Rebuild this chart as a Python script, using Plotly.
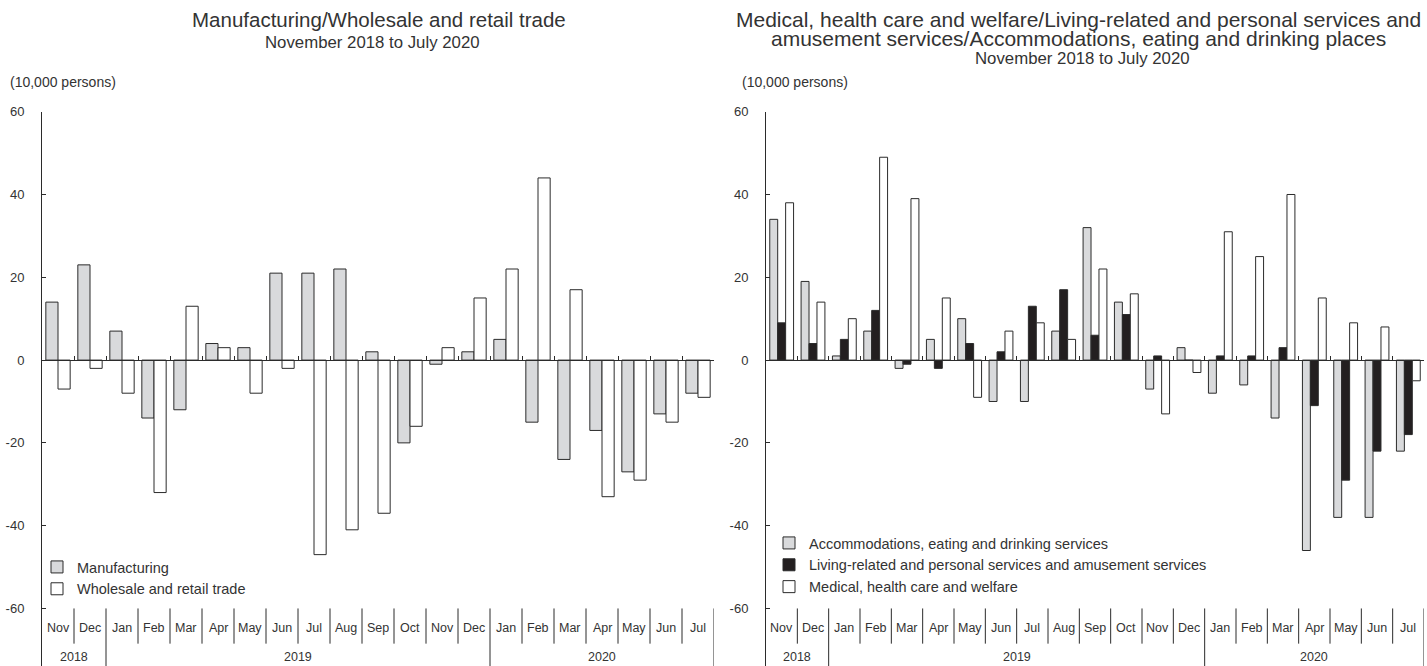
import plotly.graph_objects as go

# ---- data (10,000 persons) ----
months = ["Nov", "Dec", "Jan", "Feb", "Mar", "Apr", "May", "Jun", "Jul", "Aug", "Sep", "Oct",
          "Nov", "Dec", "Jan", "Feb", "Mar", "Apr", "May", "Jun", "Jul"]
years = ["2018"] * 2 + ["2019"] * 12 + ["2020"] * 7
periods = [f"{m} {y}" for m, y in zip(months, years)]

manufacturing = [14, 23, 7, -14, -12, 4, 3, 21, 21, 22, 2, -20,
                 -1, 2, 5, -15, -24, -17, -27, -13, -8]
wholesale = [-7, -2, -8, -32, 13, 3, -8, -2, -47, -41, -37, -16,
             3, 15, 22, 44, 17, -33, -29, -15, -9]

accommodations = [34, 19, 1, 7, -2, 5, 10, -10, -10, 7, 32, 14,
                  -7, 3, -8, -6, -14, -46, -38, -38, -22]
living = [9, 4, 5, 12, -1, -2, 4, 2, 13, 17, 6, 11,
          1, 0, 1, 1, 3, -11, -29, -22, -18]
medical = [38, 14, 10, 49, 39, 15, -9, 7, 9, 5, 22, 16,
           -13, -3, 31, 25, 40, 15, 9, 8, -5]

y_ticks = [-60, -40, -20, 0, 20, 40, 60]

# ---- layout constants ----
W, H = 1427, 666
FONT = "Liberation Sans"
TXT = "#333333"
EDGE = "#2b2b2b"
GRAY = "#d9dadc"
BLACK = "#231f20"
YMIN, YMAX = -73.9, 60
YTOP = (H - 111.7) / H
X0_POS = (0 - YMIN) / (YMAX - YMIN) * YTOP
MONTH_Y, YEAR_Y = -64.6, -71.8
SEP_Y, SEP_BOT = -60, -68.5

panels = [
    dict(x="x", y="y", xa="xaxis", ya="yaxis", dom=[42 / W, 714 / W], legend="legend"),
    dict(x="x2", y="y2", xa="xaxis2", ya="yaxis2", dom=[766 / W, 1424 / W], legend="legend2"),
]

fig = go.Figure()

series = [
    (0, "Manufacturing", manufacturing, GRAY),
    (0, "Wholesale and retail trade", wholesale, "white"),
    (1, "Accommodations, eating and drinking services", accommodations, GRAY),
    (1, "Living-related and personal services and amusement services", living, BLACK),
    (1, "Medical, health care and welfare", medical, "white"),
]
for p, name, vals, color in series:
    pn = panels[p]
    fig.add_trace(go.Bar(
        x=list(range(len(periods))), y=vals, name=name,
        xaxis=pn["x"], yaxis=pn["y"], legend=pn["legend"],
        marker=dict(color=color, line=dict(color=EDGE, width=1)),
        customdata=periods, hovertemplate="%{customdata}: %{y}<extra>" + name + "</extra>",
    ))

n = len(periods)
for pn in panels:
    fig.layout[pn["xa"]] = dict(
        domain=pn["dom"], range=[-0.5, n - 0.5], anchor="free", position=X0_POS,
        showline=True, linecolor=EDGE, linewidth=1, showgrid=False, zeroline=False,
        ticks="inside", ticklen=4, tickcolor=EDGE, automargin=False,
        tickvals=[i - 0.5 for i in range(n + 1)], showticklabels=False, fixedrange=True,
    )
    fig.layout[pn["ya"]] = dict(
        domain=[0, YTOP], range=[YMIN, YMAX], anchor=pn["x"],
        showline=True, linecolor=EDGE, linewidth=1, showgrid=False, zeroline=False,
        ticks="inside", ticklen=4, tickcolor=EDGE, automargin=False,
        tickvals=y_ticks, ticktext=[str(v) for v in y_ticks],
        tickfont=dict(size=13, color=TXT), ticklabelstandoff=14, fixedrange=True,
    )

    # month / year labels and separators under the plot
    for i, m in enumerate(months):
        fig.add_annotation(x=i, y=MONTH_Y, xref=pn["x"], yref=pn["y"], text=m,
                           showarrow=False, font=dict(size=12.5, color=TXT))
    for i in range(1, n + 1):
        year_break = i == n or years[i] != years[i - 1]
        fig.add_shape(type="line", xref=pn["x"], yref=pn["y"],
                      x0=i - 0.5, x1=i - 0.5, y0=SEP_Y, y1=YMIN if year_break else SEP_BOT,
                      line=dict(color=EDGE, width=1))
    start = 0
    for i in range(1, n + 1):
        if i == n or years[i] != years[i - 1]:
            fig.add_annotation(x=(start + i - 1) / 2, y=YEAR_Y, xref=pn["x"], yref=pn["y"],
                               text=years[start], showarrow=False, font=dict(size=12.5, color=TXT))
            start = i

def label(text, x, y, size, anchor="center"):
    fig.add_annotation(x=x / W, y=(H - y) / H, xref="paper", yref="paper", text=text,
                       showarrow=False, xanchor=anchor, yanchor="middle",
                       font=dict(size=size, color=TXT))

label("Manufacturing/Wholesale and retail trade", 379, 20, 20.5)
label("November 2018 to July 2020", 372, 42, 16.8)
label("(10,000 persons)", 8, 82, 14, "left")
label("Medical, health care and welfare/Living-related and personal services and", 1078, 20, 21)
label("amusement services/Accommodations, eating and drinking places", 1078, 39, 21)
label("November 2018 to July 2020", 1082, 58, 16.8)
label("(10,000 persons)", 740, 82, 14, "left")

legend_style = dict(bgcolor="rgba(0,0,0,0)", borderwidth=0, font=dict(size=14.5, color=TXT),
                    xanchor="left", yanchor="top", tracegroupgap=0, itemwidth=30)

fig.update_layout(
    width=W, height=H,
    margin=dict(l=0, r=0, t=0, b=0, autoexpand=False),
    paper_bgcolor="white", plot_bgcolor="white",
    font=dict(family=FONT, color=TXT),
    barmode="group", bargap=0.24, bargroupgap=0,
    showlegend=True,
    legend=dict(x=37 / W, y=(H - 551) / H, **legend_style),
    legend2=dict(x=769 / W, y=(H - 527) / H, **legend_style),
)

fig.write_html("out.html", config={"displayModeBar": False},
               post_script="document.body.style.margin='0';")
